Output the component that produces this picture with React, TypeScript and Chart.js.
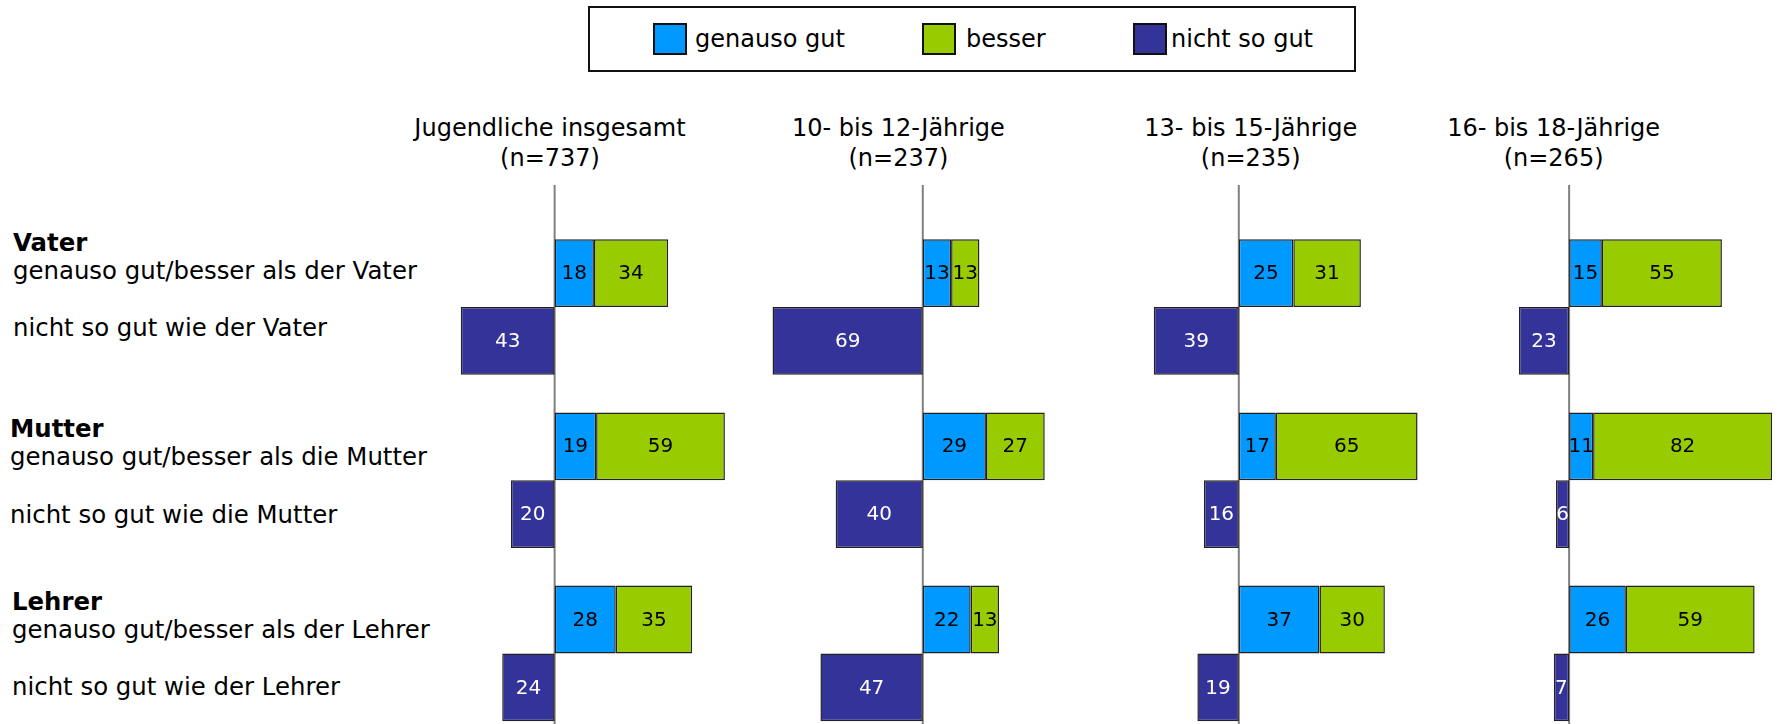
import React, { useEffect, useRef } from 'react';
import { Chart, registerables } from 'chart.js';

Chart.register(...registerables);

// ---------- data ----------
const panelTitles = ['Jugendliche insgesamt', '10- bis 12-Jährige', '13- bis 15-Jährige', '16- bis 18-Jährige'];
const panelSampleSizes = ['(n=737)', '(n=237)', '(n=235)', '(n=265)'];
const persons = ['Vater', 'Mutter', 'Lehrer'];
const positiveRowLabels = [
  'genauso gut/besser als der Vater',
  'genauso gut/besser als die Mutter',
  'genauso gut/besser als der Lehrer',
];
const negativeRowLabels = [
  'nicht so gut wie der Vater',
  'nicht so gut wie die Mutter',
  'nicht so gut wie der Lehrer',
];
const seriesNames = ['genauso gut', 'besser', 'nicht so gut'];

// values per panel: [Vater, Mutter, Lehrer]
const genausoGut = [
  [18, 19, 28],
  [13, 29, 22],
  [25, 17, 37],
  [15, 11, 26],
];
const besser = [
  [34, 59, 35],
  [13, 27, 13],
  [31, 65, 30],
  [55, 82, 59],
];
const nichtSoGut = [
  [43, 20, 24],
  [69, 40, 47],
  [39, 16, 19],
  [23, 6, 7],
];

// ---------- styling / layout ----------
const COLORS = ['#0099FF', '#99CC00', '#333399'];
const FONT = '"DejaVu Sans", Verdana, sans-serif';
const PX_PER_PCT = 2.18;
const ZERO_X = [554.3, 922.7, 1239, 1569];
const X_RANGES: [number, number][] = [[-80, 95], [-72, 80], [-60, 90], [-50, 98]];
const CANVAS_TOP = 185;
const PLOT_TOP = 220.4;
const PLOT_BOTTOM = 739.7;
const TITLE_CENTERS = [550, 898.4, 1250.8, 1553.6];
const ROW_BLOCK_TOPS = [228.6, 414.9, 587.5];
const ROW_BLOCK_LEFTS = [13, 10, 12];

const zeroLinePlugin = {
  id: 'zeroLine',
  beforeDatasetsDraw(chart: any) {
    const ctx = chart.ctx;
    const x = chart.scales.x.getPixelForValue(0);
    ctx.save();
    ctx.strokeStyle = '#808080';
    ctx.lineWidth = 2;
    ctx.beginPath();
    ctx.moveTo(x, 0);
    ctx.lineTo(x, chart.height);
    ctx.stroke();
    ctx.restore();
  },
};

const valueLabelPlugin = {
  id: 'valueLabels',
  afterDatasetsDraw(chart: any) {
    const ctx = chart.ctx;
    ctx.save();
    ctx.font = `20px ${FONT}`;
    ctx.textAlign = 'center';
    ctx.textBaseline = 'middle';
    chart.data.datasets.forEach((ds: any, di: number) => {
      const meta = chart.getDatasetMeta(di);
      meta.data.forEach((el: any, i: number) => {
        const v = ds.data[i];
        if (v === null || v === undefined) return;
        const p = el.getCenterPoint();
        ctx.fillStyle = di === 2 ? '#ffffff' : '#000000';
        ctx.fillText(String(Math.abs(v)), p.x, p.y + 1);
      });
    });
    ctx.restore();
  },
};

function Panel({ index }: { index: number }) {
  const ref = useRef<HTMLCanvasElement>(null);
  const [xmin, xmax] = X_RANGES[index];
  const width = Math.round((xmax - xmin) * PX_PER_PCT);
  const height = Math.round(PLOT_BOTTOM - CANVAS_TOP);
  const left = ZERO_X[index] + xmin * PX_PER_PCT;

  useEffect(() => {
    const chart = new Chart(ref.current as HTMLCanvasElement, {
      type: 'bar',
      data: {
        labels: persons,
        datasets: [
          { label: seriesNames[0], data: genausoGut[index], stack: 'pos', backgroundColor: COLORS[0] },
          { label: seriesNames[1], data: besser[index], stack: 'pos', backgroundColor: COLORS[1] },
          { label: seriesNames[2], data: nichtSoGut[index].map((v) => -v), stack: 'neg', backgroundColor: COLORS[2] },
        ],
      },
      options: {
        indexAxis: 'y',
        animation: false,
        responsive: false,
        devicePixelRatio: 1,
        layout: { padding: { top: PLOT_TOP - CANVAS_TOP, left: 0, right: 0, bottom: 0 } },
        datasets: {
          bar: {
            categoryPercentage: 0.783,
            barPercentage: 1,
            borderColor: '#222222',
            borderWidth: 1.5,
            borderSkipped: false,
          },
        },
        scales: {
          x: { display: false, stacked: true, min: xmin, max: xmax },
          y: { display: false, stacked: true },
        },
        plugins: { legend: { display: false }, tooltip: { enabled: false }, title: { display: false } },
      } as any,
      plugins: [zeroLinePlugin, valueLabelPlugin],
    });
    return () => chart.destroy();
  }, [index]);

  return (
    <canvas
      ref={ref}
      width={width}
      height={height}
      style={{ position: 'absolute', left, top: CANVAS_TOP, width, height, display: 'block' }}
    />
  );
}

export default function App() {
  const legendSwatchLefts = [653, 922, 1133];
  const legendTextLefts = [695, 966, 1171];
  return (
    <div
      style={{
        position: 'absolute',
        left: 0,
        top: 0,
        width: 1784,
        height: 724,
        overflow: 'hidden',
        background: '#ffffff',
        fontFamily: FONT,
        color: '#000',
      }}
    >
      {/* legend */}
      <div
        style={{
          position: 'absolute',
          left: 588,
          top: 6,
          width: 764,
          height: 62,
          border: '2px solid #111',
        }}
      />
      {seriesNames.map((name, i) => (
        <React.Fragment key={name}>
          <div
            style={{
              position: 'absolute',
              left: legendSwatchLefts[i],
              top: 23,
              width: 30,
              height: 28,
              background: COLORS[i],
              border: '2px solid #111',
            }}
          />
          <div
            style={{
              position: 'absolute',
              left: legendTextLefts[i],
              top: 23,
              lineHeight: '32px',
              fontSize: 24,
              whiteSpace: 'nowrap',
            }}
          >
            {name}
          </div>
        </React.Fragment>
      ))}

      {/* panel titles */}
      {panelTitles.map((t, i) => (
        <div
          key={t}
          style={{
            position: 'absolute',
            left: TITLE_CENTERS[i] - 200,
            width: 400,
            top: 114.3,
            textAlign: 'center',
            fontSize: 24,
            lineHeight: '29.4px',
            whiteSpace: 'nowrap',
          }}
        >
          <div>{t}</div>
          <div>{panelSampleSizes[i]}</div>
        </div>
      ))}

      {/* row labels */}
      {persons.map((p, i) => (
        <div
          key={p}
          style={{
            position: 'absolute',
            left: ROW_BLOCK_LEFTS[i],
            top: ROW_BLOCK_TOPS[i],
            fontSize: 24.4,
            lineHeight: '28.6px',
            whiteSpace: 'nowrap',
          }}
        >
          <div style={{ fontWeight: 'bold' }}>{p}</div>
          <div>{positiveRowLabels[i]}</div>
          <div style={{ height: 28.6 }} />
          <div>{negativeRowLabels[i]}</div>
        </div>
      ))}

      {panelTitles.map((_, i) => (
        <Panel key={i} index={i} />
      ))}
    </div>
  );
}
